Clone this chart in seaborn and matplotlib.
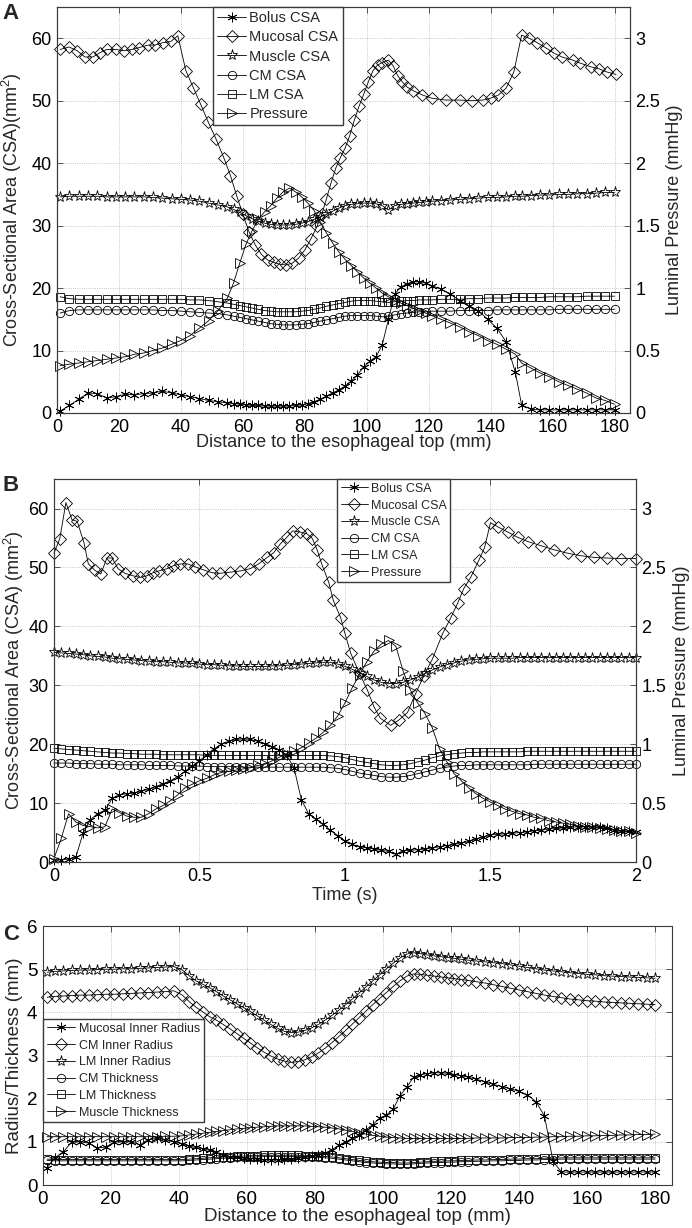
import matplotlib
matplotlib.use("Agg")
import matplotlib.pyplot as plt
import seaborn as sns

# ---------------- Panel A: CSA / pressure vs distance ----------------
a_x = [1, 4, 7, 10, 13, 16, 19, 22, 25, 28, 31, 34, 37, 40, 43, 46, 49, 52, 55,
       57, 59, 61, 63, 65, 67, 69, 71, 73, 75, 77, 79, 81, 83, 85, 87, 89, 91, 93, 95,
       97, 99, 101, 103, 105, 107, 109, 111, 113, 115, 117, 119, 121,
       124, 127, 130, 133, 136, 139, 142, 145, 148, 150,
       153, 156, 159, 162, 165, 168, 171, 174, 177, 180]
a_bolus = [0.3, 1.2, 2.2, 3.2, 3.1, 2.4, 2.6, 3.0, 2.9, 3.1, 3.2, 3.5, 3.2, 2.9, 2.6, 2.3, 2.0, 1.8, 1.6,
           1.5, 1.4, 1.3, 1.2, 1.2, 1.1, 1.1, 1.1, 1.1, 1.1, 1.2, 1.3, 1.5, 1.8, 2.2, 2.7, 3.2, 3.7, 4.3, 5.1,
           6.1, 7.4, 8.3, 9.0, 10.9, 15.0, 19.0, 20.2, 20.7, 21.0, 21.0, 20.8, 20.4,
           19.8, 19.1, 18.0, 17.2, 16.4, 15.0, 13.6, 11.4, 6.5, 1.3,
           0.6, 0.5, 0.5, 0.5, 0.5, 0.5, 0.5, 0.5, 0.5, 0.5]
a_muscle = [34.6, 34.7, 34.7, 34.7, 34.7, 34.6, 34.6, 34.6, 34.6, 34.6, 34.5, 34.4, 34.3, 34.2, 34.1, 33.9, 33.6, 33.3, 33.0,
            32.6, 32.1, 31.6, 31.1, 30.7, 30.4, 30.2, 30.1, 30.1, 30.1, 30.2, 30.4, 30.6, 31.0, 31.4, 31.8, 32.3, 32.8, 33.2, 33.4,
            33.5, 33.6, 33.6, 33.5, 33.2, 32.5, 33.2, 33.4, 33.5, 33.6, 33.7, 33.8, 33.9,
            34.0, 34.1, 34.2, 34.3, 34.4, 34.5, 34.5, 34.6, 34.7, 34.7,
            34.8, 34.9, 34.9, 35.0, 35.0, 35.1, 35.1, 35.2, 35.3, 35.3]
a_cm = [16.0, 16.4, 16.5, 16.5, 16.5, 16.5, 16.5, 16.5, 16.5, 16.5, 16.5, 16.4, 16.4, 16.3, 16.2, 16.1, 16.0, 15.9, 15.7,
        15.5, 15.3, 15.1, 14.9, 14.7, 14.5, 14.3, 14.2, 14.1, 14.1, 14.1, 14.2, 14.3, 14.5, 14.7, 14.9, 15.1, 15.3, 15.5, 15.6,
        15.6, 15.6, 15.6, 15.5, 15.4, 15.5, 15.7, 15.9, 16.0, 16.1, 16.2, 16.2, 16.3,
        16.3, 16.3, 16.4, 16.4, 16.4, 16.4, 16.5, 16.5, 16.5, 16.5,
        16.5, 16.5, 16.5, 16.6, 16.6, 16.6, 16.6, 16.6, 16.6, 16.6]
a_lm = [18.6, 18.3, 18.2, 18.2, 18.2, 18.2, 18.2, 18.2, 18.2, 18.2, 18.2, 18.2, 18.2, 18.2, 18.1, 18.1, 18.0, 17.8, 17.6,
        17.4, 17.2, 17.0, 16.8, 16.6, 16.4, 16.3, 16.2, 16.2, 16.2, 16.2, 16.3, 16.4, 16.6, 16.8, 17.1, 17.3, 17.5, 17.7, 17.9,
        18.0, 18.0, 18.0, 17.9, 17.8, 17.7, 17.8, 17.9, 18.0, 18.0, 18.1, 18.1, 18.1,
        18.2, 18.2, 18.2, 18.3, 18.3, 18.4, 18.4, 18.4, 18.5, 18.5,
        18.5, 18.5, 18.6, 18.6, 18.6, 18.6, 18.7, 18.7, 18.7, 18.7]
a_pressure = [0.38, 0.39, 0.40, 0.41, 0.42, 0.43, 0.44, 0.45, 0.47, 0.48, 0.50, 0.52, 0.55, 0.58, 0.62, 0.68, 0.74, 0.82, 0.92,
              1.04, 1.20, 1.35, 1.46, 1.55, 1.61, 1.66, 1.72, 1.77, 1.80, 1.77, 1.73, 1.68, 1.62, 1.53, 1.44, 1.36, 1.29, 1.23, 1.18,
              1.13, 1.08, 1.04, 1.00, 0.96, 0.93, 0.90, 0.88, 0.86, 0.84, 0.82, 0.80, 0.78,
              0.75, 0.72, 0.69, 0.65, 0.62, 0.58, 0.55, 0.51, 0.47, 0.40,
              0.36, 0.32, 0.29, 0.25, 0.22, 0.19, 0.16, 0.12, 0.10, 0.07]
a_muc_x = [1, 3.9, 6.5, 9, 11.6, 13.9, 16, 19, 21.6, 24.2, 26.5, 29.4, 31.6, 34.2, 36.8, 39,
           41.6, 44, 46.4, 48.8, 51.3, 53.9, 56, 58, 60, 62, 64, 66, 68, 70, 72, 74, 76, 78, 80, 82, 84,
           85.5, 87, 88.5, 90, 91.5, 93, 94.5, 96, 97.5, 99, 100.5, 102, 103.5, 105, 107, 108.5, 110, 111.5,
           113, 115, 118, 121,
           125.5, 130, 134, 137.5, 140, 142.5, 145, 147.5, 150, 152.5, 155, 158, 160.5, 163, 166.5, 169,
           172.5, 175, 177.5, 180.5]
a_mucosal = [58.2, 58.6, 58.0, 57.0, 57.0, 57.7, 58.2, 58.2, 58.0, 58.2, 58.5, 58.9, 58.9, 59.3, 59.5, 60.4,
             54.8, 52.1, 49.4, 46.6, 43.9, 40.8, 38.0, 34.8, 31.8, 29.0, 26.9, 25.4, 24.5, 24.1, 23.8, 23.7, 24.0,
             24.8, 26.1, 27.9, 29.9,
             31.8, 34.3, 36.9, 39.2, 40.9, 42.4, 44.4, 46.9, 49.1, 51.0, 53.0, 54.8, 55.7, 56.1, 56.5, 55.6, 54.0,
             53.0, 52.2, 51.6, 50.9, 50.4,
             50.1, 50.1, 50.0, 50.1, 50.4, 50.9, 52.0, 54.6, 60.5, 60.0, 59.3, 58.4, 57.6, 57.0, 56.5, 56.0,
             55.4, 55.1, 54.6, 54.2]

# ---------------- Panel B: CSA / pressure vs time ----------------
b_t = [0.0, 0.025, 0.05, 0.075, 0.1, 0.125, 0.15, 0.175, 0.2, 0.225,
       0.25, 0.275, 0.3, 0.325, 0.35, 0.375, 0.4, 0.425, 0.45, 0.475,
       0.5, 0.525, 0.55, 0.575, 0.6, 0.625, 0.65, 0.675, 0.7, 0.725,
       0.75, 0.775, 0.8, 0.825, 0.85, 0.875, 0.9, 0.925, 0.95, 0.975,
       1.0, 1.025, 1.05, 1.075, 1.1, 1.125, 1.15, 1.175, 1.2, 1.225,
       1.25, 1.275, 1.3, 1.325, 1.35, 1.375, 1.4, 1.425, 1.45, 1.475,
       1.5, 1.525, 1.55, 1.575, 1.6, 1.625, 1.65, 1.675, 1.7, 1.725,
       1.75, 1.775, 1.8, 1.825, 1.85, 1.875, 1.9, 1.925, 1.95, 1.975,
       2.0]
b_bolus = [0.3, 0.4, 0.5, 0.8, 4.9, 7.2, 8.2, 8.8, 10.8, 11.4,
           11.6, 11.7, 12.0, 12.4, 12.8, 13.3, 13.8, 14.5, 15.4, 16.3,
           17.2, 18.2, 19.2, 20.0, 20.5, 20.8, 20.9, 20.8, 20.5, 20.1,
           19.6, 19.0, 18.1, 16.0, 10.6, 8.2, 7.3, 6.4, 5.4, 4.5,
           3.6, 3.0, 2.6, 2.4, 2.2, 2.0, 1.8, 1.3, 1.9, 2.0,
           2.1, 2.2, 2.4, 2.6, 2.8, 3.0, 3.2, 3.5, 3.9, 4.3,
           4.6, 4.7, 4.8, 4.9, 5.0, 5.1, 5.3, 5.4, 5.6, 5.7,
           5.8, 5.9, 6.0, 6.0, 6.0, 5.9, 5.7, 5.5, 5.3, 5.2,
           5.1]
b_muscle = [35.6, 35.5, 35.4, 35.3, 35.2, 35.0, 34.9, 34.8, 34.6, 34.5,
            34.4, 34.3, 34.2, 34.1, 34.0, 34.0, 33.9, 33.8, 33.8, 33.7,
            33.6, 33.5, 33.5, 33.4, 33.3, 33.3, 33.2, 33.2, 33.2, 33.2,
            33.3, 33.3, 33.4, 33.5, 33.6, 33.7, 33.8, 33.9, 33.9, 33.6,
            33.2, 32.7, 32.1, 31.5, 30.9, 30.5, 30.3, 30.3, 30.5, 30.9,
            31.4, 32.0, 32.6, 33.1, 33.5, 33.8, 34.1, 34.3, 34.4, 34.5,
            34.6, 34.6, 34.6, 34.6, 34.7, 34.7, 34.7, 34.7, 34.7, 34.7,
            34.7, 34.7, 34.7, 34.7, 34.7, 34.7, 34.7, 34.7, 34.7, 34.7,
            34.7]
b_cm = [16.8, 16.8, 16.8, 16.7, 16.7, 16.7, 16.6, 16.6, 16.6, 16.5,
        16.5, 16.5, 16.5, 16.4, 16.4, 16.4, 16.4, 16.3, 16.3, 16.3,
        16.3, 16.2, 16.2, 16.2, 16.2, 16.2, 16.1, 16.1, 16.1, 16.1,
        16.1, 16.1, 16.1, 16.1, 16.1, 16.1, 16.1, 16.1, 16.0, 15.9,
        15.7, 15.4, 15.1, 14.9, 14.7, 14.5, 14.4, 14.4, 14.5, 14.7,
        15.0, 15.3, 15.6, 15.9, 16.1, 16.3, 16.4, 16.4, 16.5, 16.5,
        16.5, 16.5, 16.5, 16.5, 16.5, 16.5, 16.6, 16.6, 16.6, 16.6,
        16.6, 16.6, 16.6, 16.6, 16.6, 16.6, 16.6, 16.6, 16.6, 16.6,
        16.6]
b_lm = [19.3, 19.2, 19.1, 19.0, 18.9, 18.8, 18.7, 18.6, 18.5, 18.5,
        18.4, 18.4, 18.3, 18.3, 18.3, 18.2, 18.2, 18.2, 18.2, 18.2,
        18.2, 18.1, 18.1, 18.1, 18.1, 18.1, 18.1, 18.1, 18.1, 18.1,
        18.1, 18.1, 18.1, 18.1, 18.1, 18.1, 18.1, 18.1, 18.0, 17.9,
        17.7, 17.4, 17.1, 16.9, 16.7, 16.5, 16.4, 16.4, 16.5, 16.7,
        17.0, 17.3, 17.7, 18.0, 18.2, 18.4, 18.5, 18.6, 18.6, 18.7,
        18.7, 18.7, 18.7, 18.7, 18.7, 18.8, 18.8, 18.8, 18.8, 18.8,
        18.8, 18.8, 18.8, 18.8, 18.8, 18.8, 18.8, 18.8, 18.8, 18.8,
        18.8]
b_pressure = [0.03, 0.20, 0.41, 0.34, 0.31, 0.30, 0.29, 0.30, 0.45, 0.42,
              0.39, 0.38, 0.38, 0.41, 0.45, 0.48, 0.52, 0.57, 0.63, 0.66,
              0.69, 0.71, 0.74, 0.76, 0.77, 0.78, 0.79, 0.80, 0.82, 0.83,
              0.86, 0.89, 0.92, 0.94, 0.97, 1.01, 1.05, 1.10, 1.16, 1.24,
              1.35, 1.48, 1.59, 1.70, 1.79, 1.85, 1.88, 1.83, 1.62, 1.46,
              1.35, 1.26, 1.14, 0.96, 0.85, 0.75, 0.69, 0.63, 0.58, 0.54,
              0.51, 0.48, 0.45, 0.43, 0.41, 0.40, 0.38, 0.37, 0.35, 0.34,
              0.33, 0.32, 0.31, 0.30, 0.30, 0.29, 0.28, 0.27, 0.26, 0.26,
              0.25]
b_muc_t = [0, 0.02, 0.041, 0.062, 0.08, 0.103, 0.118, 0.141, 0.161, 0.182,
           0.2, 0.22, 0.244, 0.27, 0.296, 0.32, 0.34, 0.36, 0.39, 0.41,
           0.434, 0.46, 0.485, 0.513, 0.543, 0.57, 0.605, 0.64, 0.675, 0.703,
           0.733, 0.755, 0.778, 0.8, 0.82, 0.847, 0.87, 0.888, 0.905, 0.92,
           0.944, 0.96, 0.985, 1.0, 1.02, 1.05, 1.077, 1.1, 1.122, 1.157,
           1.185, 1.215, 1.243, 1.27, 1.3, 1.336, 1.363, 1.387, 1.408, 1.432,
           1.46, 1.48, 1.5, 1.525, 1.56, 1.594, 1.628, 1.673, 1.718, 1.766,
           1.81, 1.855, 1.9, 1.95, 2.0]
b_mucosal = [52.4, 54.9, 61.0, 58.1, 57.8, 54.2, 50.6, 49.5, 48.9, 51.6,
             51.6, 49.8, 49.0, 48.6, 48.3, 48.6, 49.1, 49.4, 49.8, 50.3,
             50.6, 50.6, 50.1, 49.6, 49.1, 49.0, 49.2, 49.4, 49.8, 50.6,
             51.7, 52.5, 54.0, 55.1, 56.2, 56.0, 55.7, 54.9, 52.9, 50.6,
             47.5, 44.4, 41.5, 38.8, 35.4, 32.0, 29.2, 26.3, 24.4, 23.2,
             24.1, 25.4, 28.6, 31.5, 34.4, 38.8, 41.4, 43.9, 46.4, 48.3,
             51.2, 53.4, 57.6, 56.9, 56.0, 55.1, 54.4, 53.7, 53.0, 52.4,
             52.0, 51.7, 51.6, 51.5, 51.5]

# ---------------- Panel C: radius / thickness vs distance ----------------
c_x = [1.2, 3.5, 6, 8.5, 11, 13.5, 16, 18.5, 21, 23.5,
       26, 28.5, 31, 33.5, 36, 38.5, 41, 43, 45, 47,
       49, 51, 53, 55, 57, 59, 61, 63, 65, 67,
       69, 71, 73, 75, 77, 79, 81, 83, 85, 87,
       89, 91, 93, 95, 97, 99, 101, 103, 105, 107,
       109, 111, 113, 115, 117, 119, 121, 123, 125, 127.5,
       130, 132.5, 135, 137.5, 140, 142.5, 145, 147.5, 150, 152.5,
       155, 157.5, 160, 162.5, 165, 167.5, 170, 172.5, 175, 177.5,
       180]
c_muc_r = [0.40, 0.63, 0.77, 1.00, 1.00, 0.97, 0.86, 0.88, 1.00, 1.00,
           1.00, 0.93, 1.05, 1.08, 1.05, 1.00, 0.95, 0.90, 0.87, 0.84,
           0.80, 0.76, 0.70, 0.66, 0.64, 0.62, 0.61, 0.60, 0.59, 0.59,
           0.59, 0.60, 0.61, 0.62, 0.64, 0.67, 0.70, 0.74, 0.82, 0.92,
           1.00, 1.08, 1.16, 1.28, 1.40, 1.55, 1.62, 1.76, 2.07, 2.27,
           2.50, 2.56, 2.58, 2.60, 2.60, 2.59, 2.56, 2.53, 2.50, 2.45,
           2.39, 2.33, 2.28, 2.23, 2.17, 2.09, 1.93, 1.60, 0.55, 0.30,
           0.30, 0.30, 0.30, 0.30, 0.30, 0.30, 0.30, 0.30, 0.30, 0.30,
           0.30]
c_cm_r = [4.35, 4.37, 4.38, 4.39, 4.40, 4.40, 4.41, 4.42, 4.42, 4.43,
          4.44, 4.45, 4.46, 4.47, 4.48, 4.50, 4.40, 4.25, 4.12, 4.01,
          3.90, 3.82, 3.72, 3.62, 3.51, 3.40, 3.29, 3.18, 3.08, 2.99,
          2.92, 2.87, 2.84, 2.86, 2.90, 2.97, 3.06, 3.17, 3.30, 3.44,
          3.58, 3.73, 3.88, 4.03, 4.18, 4.32, 4.46, 4.60, 4.73, 4.84,
          4.89, 4.88, 4.86, 4.84, 4.82, 4.80, 4.78, 4.76, 4.74, 4.71,
          4.68, 4.64, 4.60, 4.56, 4.52, 4.48, 4.44, 4.40, 4.37, 4.34,
          4.31, 4.29, 4.27, 4.26, 4.24, 4.23, 4.22, 4.21, 4.20, 4.19,
          4.18]
c_lm_r = [4.93, 4.95, 4.96, 4.97, 4.98, 4.98, 4.99, 5.00, 5.00, 5.01,
          5.01, 5.02, 5.03, 5.04, 5.05, 5.06, 4.98, 4.85, 4.73, 4.65,
          4.57, 4.48, 4.38, 4.29, 4.20, 4.11, 4.02, 3.92, 3.82, 3.72,
          3.63, 3.56, 3.53, 3.54, 3.58, 3.64, 3.72, 3.82, 3.93, 4.05,
          4.18, 4.31, 4.45, 4.59, 4.73, 4.87, 5.01, 5.14, 5.26, 5.35,
          5.38, 5.36, 5.33, 5.31, 5.29, 5.27, 5.25, 5.23, 5.21, 5.19,
          5.17, 5.15, 5.13, 5.10, 5.07, 5.04, 5.01, 4.98, 4.96, 4.94,
          4.92, 4.90, 4.88, 4.87, 4.85, 4.84, 4.83, 4.82, 4.81, 4.80,
          4.79]
c_cm_t = [0.57, 0.56, 0.56, 0.56, 0.56, 0.56, 0.56, 0.56, 0.56, 0.56,
          0.56, 0.56, 0.56, 0.56, 0.56, 0.56, 0.56, 0.57, 0.58, 0.59,
          0.60, 0.61, 0.62, 0.63, 0.64, 0.64, 0.65, 0.65, 0.66, 0.66,
          0.66, 0.66, 0.66, 0.66, 0.65, 0.65, 0.64, 0.63, 0.62, 0.60,
          0.58, 0.56, 0.54, 0.52, 0.51, 0.50, 0.49, 0.49, 0.48, 0.48,
          0.49, 0.50, 0.51, 0.52, 0.52, 0.53, 0.53, 0.54, 0.54, 0.55,
          0.55, 0.56, 0.56, 0.57, 0.57, 0.58, 0.58, 0.59, 0.59, 0.60,
          0.60, 0.60, 0.60, 0.60, 0.60, 0.60, 0.60, 0.60, 0.60, 0.60,
          0.60]
c_lm_t = [0.60, 0.59, 0.59, 0.59, 0.59, 0.59, 0.59, 0.59, 0.59, 0.59,
          0.59, 0.59, 0.59, 0.59, 0.59, 0.59, 0.59, 0.60, 0.61, 0.62,
          0.63, 0.64, 0.65, 0.66, 0.67, 0.67, 0.68, 0.68, 0.69, 0.69,
          0.69, 0.69, 0.69, 0.69, 0.68, 0.68, 0.67, 0.66, 0.65, 0.63,
          0.61, 0.59, 0.57, 0.55, 0.54, 0.53, 0.52, 0.52, 0.51, 0.51,
          0.52, 0.53, 0.54, 0.55, 0.55, 0.56, 0.56, 0.57, 0.57, 0.58,
          0.58, 0.59, 0.59, 0.60, 0.60, 0.61, 0.61, 0.62, 0.62, 0.63,
          0.63, 0.63, 0.63, 0.63, 0.63, 0.63, 0.63, 0.63, 0.63, 0.63,
          0.63]
c_muscle_t = [1.12, 1.12, 1.12, 1.12, 1.12, 1.12, 1.12, 1.12, 1.12, 1.12,
              1.12, 1.12, 1.12, 1.12, 1.13, 1.13, 1.14, 1.16, 1.18, 1.20,
              1.22, 1.24, 1.26, 1.28, 1.30, 1.31, 1.33, 1.34, 1.35, 1.36,
              1.37, 1.37, 1.37, 1.37, 1.37, 1.36, 1.35, 1.34, 1.32, 1.30,
              1.27, 1.24, 1.21, 1.18, 1.15, 1.13, 1.11, 1.10, 1.09, 1.08,
              1.08, 1.08, 1.08, 1.08, 1.08, 1.08, 1.08, 1.08, 1.08, 1.09,
              1.09, 1.09, 1.09, 1.10, 1.10, 1.10, 1.11, 1.11, 1.12, 1.12,
              1.13, 1.13, 1.14, 1.14, 1.15, 1.15, 1.16, 1.16, 1.17, 1.17,
              1.18]

csa_labels = ["Bolus CSA", "Mucosal CSA", "Muscle CSA", "CM CSA", "LM CSA", "Pressure"]
c_labels = ["Mucosal Inner Radius", "CM Inner Radius", "LM Inner Radius",
            "CM Thickness", "LM Thickness", "Muscle Thickness"]

ASTER = (6, 2, 0)
MSIZE = {"ast": 7, "D": 6.5, "*": 8, "o": 6, "s": 5.5, ">": 6.5}

sns.set_style("white")
plt.rcParams["font.family"] = ["Liberation Sans", "DejaVu Sans"]
plt.rcParams["mathtext.fontset"] = "custom"
plt.rcParams["mathtext.rm"] = "Liberation Sans"
plt.rcParams["mathtext.default"] = "regular"
plt.rcParams["axes.edgecolor"] = "#3a3a3a"
plt.rcParams["axes.linewidth"] = 0.8


def draw(ax, x, y, marker, key):
    sns.lineplot(x=x, y=y, ax=ax, color="black", linewidth=0.6,
                 marker=marker, markersize=MSIZE[key], markerfacecolor="none",
                 markeredgecolor="black", markeredgewidth=0.6,
                 estimator=None, sort=False, legend=False, clip_on=False)
    return ax.lines[-1]


def style_axes(ax, size=13):
    ax.grid(True, linestyle=":", linewidth=0.6, color="#b5b5b5")
    ax.tick_params(direction="in", length=4, width=0.6, top=True, right=False,
                   labelsize=size, pad=4, colors="#3a3a3a", labelcolor="black")


def csa_panel(ax, x_all, x_muc, bolus, mucosal, muscle, cm, lm, pres):
    h = [draw(ax, x_all, bolus, ASTER, "ast"),
         draw(ax, x_muc, mucosal, "D", "D"),
         draw(ax, x_all, muscle, "*", "*"),
         draw(ax, x_all, cm, "o", "o"),
         draw(ax, x_all, lm, "s", "s")]
    ax2 = ax.twinx()
    h.append(draw(ax2, x_all, pres, ">", ">"))
    ax.set_ylim(0, 65)
    ax.set_yticks([0, 10, 20, 30, 40, 50, 60])
    ax2.set_ylim(0, 3.25)
    ax2.set_yticks([0, 0.5, 1, 1.5, 2, 2.5, 3])
    ax2.set_yticklabels(["0", "0.5", "1", "1.5", "2", "2.5", "3"])
    ax2.tick_params(direction="in", length=4, width=0.6, labelsize=13, pad=4,
                    colors="#3a3a3a", labelcolor="black")
    ax2.grid(False)
    style_axes(ax)
    return ax2, h


fig = plt.figure(figsize=(6.92, 12.28), dpi=100)

# ---- A ----
axA = fig.add_axes([0.0824, 0.6637, 0.828, 0.3306])
axA2, hA = csa_panel(axA, a_x, a_muc_x, a_bolus, a_mucosal, a_muscle, a_cm, a_lm, a_pressure)
axA.set_xlim(0, 185)
axA.set_xticks(range(0, 181, 20))
axA.set_xlabel("Distance to the esophageal top (mm)", fontsize=13)
axA.set_ylabel("Cross-Sectional Area (CSA)(mm$^2$)", fontsize=13)
axA2.set_ylabel("Luminal Pressure (mmHg)", fontsize=13)
axA.xaxis.set_label_coords(0.5, -0.052)
axA.yaxis.set_label_coords(-0.058, 0.5)
axA2.yaxis.set_label_coords(1.063, 0.5)
axA2.legend(hA, csa_labels, loc="upper left", bbox_to_anchor=(0.272, 1.0),
            fontsize=10.5, frameon=True, fancybox=False, edgecolor="#3a3a3a",
            framealpha=1, borderaxespad=0, borderpad=0.3, labelspacing=0.35,
            handlelength=2.0, handletextpad=0.2)

# ---- B ----
axB = fig.add_axes([0.078, 0.298, 0.841, 0.3119])
axB2, hB = csa_panel(axB, b_t, b_muc_t, b_bolus, b_mucosal, b_muscle, b_cm, b_lm, b_pressure)
axB.set_xlim(0, 2.0)
axB.set_xticks([0, 0.5, 1, 1.5, 2])
axB.set_xticklabels(["0", "0.5", "1", "1.5", "2"])
axB.set_xlabel("Time (s)", fontsize=13)
axB.set_ylabel("Cross-Sectional Area (CSA) (mm$^2$)", fontsize=13)
axB2.set_ylabel("Luminal Pressure (mmHg)", fontsize=13)
axB.xaxis.set_label_coords(0.5, -0.064)
axB.yaxis.set_label_coords(-0.048, 0.5)
axB2.yaxis.set_label_coords(1.064, 0.5)
axB2.legend(hB, csa_labels, loc="upper left", bbox_to_anchor=(0.486, 1.0),
            fontsize=9, frameon=True, fancybox=False, edgecolor="#3a3a3a",
            framealpha=1, borderaxespad=0, borderpad=0.3, labelspacing=0.38,
            handlelength=2.2, handletextpad=0.2)

# ---- C ----
axC = fig.add_axes([0.0621, 0.035, 0.909, 0.2109])
hC = [draw(axC, c_x, c_muc_r, ASTER, "ast"),
      draw(axC, c_x, c_cm_r, "D", "D"),
      draw(axC, c_x, c_lm_r, "*", "*"),
      draw(axC, c_x, c_cm_t, "o", "o"),
      draw(axC, c_x, c_lm_t, "s", "s"),
      draw(axC, c_x, c_muscle_t, ">", ">")]
axC.set_xlim(0, 185)
axC.set_xticks(range(0, 181, 20))
axC.set_ylim(0, 6)
axC.set_yticks(range(0, 7))
style_axes(axC, size=13.5)
axC.tick_params(right=True)
axC.set_xlabel("Distance to the esophageal top (mm)", fontsize=13.5)
axC.set_ylabel("Radius/Thickness (mm)", fontsize=13.5)
axC.xaxis.set_label_coords(0.5, -0.089)
axC.yaxis.set_label_coords(-0.032, 0.5)
axC.legend(hC, c_labels, loc="upper left", bbox_to_anchor=(0.0, 0.641),
           fontsize=9, frameon=True, fancybox=False, edgecolor="#3a3a3a",
           framealpha=1, borderaxespad=0, borderpad=0.3, labelspacing=0.38,
           handlelength=2.3, handletextpad=0.25)

# panel letters
for letter, ypos in [("A", 0.9976), ("B", 0.6132), ("C", 0.2476)]:
    fig.text(0.004, ypos, letter, fontsize=16, fontweight="bold", va="top", ha="left")

fig.savefig("out.png", dpi=100)
